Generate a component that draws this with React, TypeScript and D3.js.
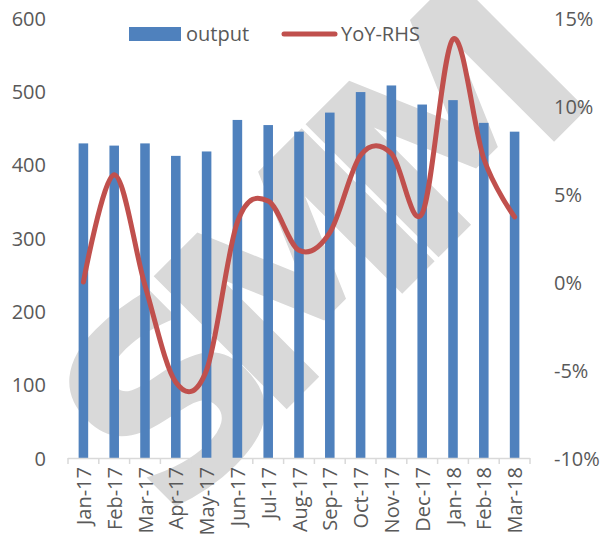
import React from "react";
import * as d3 from "d3";

const months = ["Jan-17", "Feb-17", "Mar-17", "Apr-17", "May-17", "Jun-17", "Jul-17", "Aug-17", "Sep-17", "Oct-17", "Nov-17", "Dec-17", "Jan-18", "Feb-18", "Mar-18"];
const output = [429, 426, 429, 412, 418, 461, 454, 445, 471, 499, 508, 482, 488, 457, 445];
const yoy = [0.0, 6.1, -0.2, -5.7, -5.0, 3.4, 4.6, 1.8, 2.8, 7.2, 7.3, 3.9, 13.8, 7.0, 3.7];
const leftTicks = [0, 100, 200, 300, 400, 500, 600];
const rightTicks = [-10, -5, 0, 5, 10, 15];

const W = 603;
const H = 549;
const font = "'Open Sans', sans-serif";
const textColor = "#595959";

const App = () => {
  const x = d3.scaleBand<string>().domain(months).range([68, 530]).padding(0);
  const yL = d3.scaleLinear().domain([0, 600]).range([458, 18]);
  const yR = d3.scaleLinear().domain([-10, 15]).range([458, 18]);
  const barW = x.bandwidth() * 0.31;
  const cx = (m: string) => (x(m) as number) + x.bandwidth() / 2;

  const line = d3
    .line<number>()
    .x((_, i) => cx(months[i]))
    .y((d) => yR(d))
    .curve(d3.curveCardinal.tension(0));

  return (
    <svg width={W} height={H} style={{ position: "absolute", left: 0, top: 0 }}>
      <rect width={W} height={H} fill="#fff" />

      {/* watermark */}
      <text
        x={0}
        y={0}
        transform="translate(308,262) rotate(-45)"
        textAnchor="middle"
        dominantBaseline="central"
        fontFamily="'DejaVu Sans', sans-serif"
        fontWeight="bold"
        fontSize={258}
        letterSpacing={-42}
        fill="#d9d9d9"
      >
        SMM
      </text>

      {/* legend */}
      <rect x={129} y={27} width={52} height={14} fill="#4f81bd" />
      <text x={186} y={41} fontFamily={font} fontSize={20} fill={textColor}>output</text>
      <line x1={284} x2={335} y1={34} y2={34} stroke="#c0504d" strokeWidth={5} strokeLinecap="round" />
      <text x={341} y={41} fontFamily={font} fontSize={20} fill={textColor}>YoY-RHS</text>

      {/* bars */}
      {months.map((m, i) => (
        <rect key={m} x={cx(m) - barW / 2} y={yL(output[i])} width={barW} height={yL(0) - yL(output[i])} fill="#4f81bd" />
      ))}

      {/* x axis */}
      <line x1={68} x2={530} y1={458.5} y2={458.5} stroke="#d9d9d9" strokeWidth={1.5} />
      {d3.range(months.length + 1).map((i) => {
        const xp = 68 + i * x.step();
        return <line key={i} x1={xp} x2={xp} y1={458} y2={464} stroke="#d9d9d9" strokeWidth={1.5} />;
      })}
      {months.map((m) => (
        <text
          key={m}
          transform={`translate(${cx(m)},467) rotate(-90)`}
          textAnchor="end"
          dominantBaseline="central"
          fontFamily={font}
          fontSize={20}
          fill={textColor}
        >
          {m}
        </text>
      ))}

      {/* left axis */}
      {leftTicks.map((t) => (
        <text key={t} x={46} y={yL(t)} textAnchor="end" dominantBaseline="central" fontFamily={font} fontSize={20} fill={textColor}>
          {t}
        </text>
      ))}

      {/* right axis */}
      {rightTicks.map((t) => (
        <text key={t} x={554} y={yR(t)} dominantBaseline="central" fontFamily={font} fontSize={20} fill={textColor}>
          {`${t}%`}
        </text>
      ))}

      {/* yoy line */}
      <path d={line(yoy) ?? ""} fill="none" stroke="#c0504d" strokeWidth={5} strokeLinecap="round" />
    </svg>
  );
};

export default App;
